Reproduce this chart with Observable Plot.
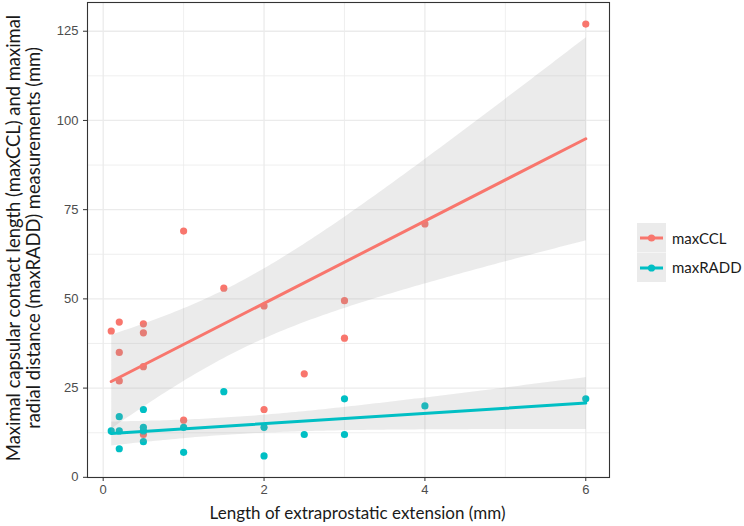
<!DOCTYPE html>
<html>
<head>
<meta charset="utf-8">
<script src="https://cdn.jsdelivr.net/npm/d3@7"></script>
<script src="https://cdn.jsdelivr.net/npm/@observablehq/plot@0.6"></script>
<style>
  body { margin: 0; background: #fff; }
  #wrap { position: relative; width: 744px; height: 526px; overflow: hidden; }
  #ytitle {
    position: absolute; left: 23px; top: 238px;
    transform: translate(-50%, -50%) rotate(-90deg);
    white-space: nowrap; text-align: center;
    font-family: Lato, "Open Sans", sans-serif; font-size: 18.4px; line-height: 20px; color: #1a1a1a;
  }
  #legend { position: absolute; left: 637px; top: 223px; font-family: Lato, "Open Sans", sans-serif; font-size: 15px; color: #1a1a1a; }
  .item { display: flex; align-items: center; height: 29.5px; }
  .item svg { display: block; }
  .item span { margin-left: 6px; }
</style>
</head>
<body>
<div id="wrap">
  <div id="chart"></div>
  <div id="ytitle"></div>
  <div id="legend"></div>
</div>
<script>
// Length of extraprostatic extension (mm), one entry per lesion
const epe     = [0.1, 0.2, 0.2, 0.2, 0.5, 0.5, 0.5, 0.5, 1, 1, 1.5, 2, 2, 2.5, 3, 3, 4, 6];
// Maximal capsular contact length (mm)
const maxCCL  = [41, 43.5, 35, 27, 43, 40.5, 31, 12, 69, 16, 53, 48, 19, 29, 49.5, 39, 71, 127];
// Maximal radial distance (mm)
const maxRADD = [13, 17, 13, 8, 19, 14, 13, 10, 14, 7, 24, 14, 6, 12, 22, 12, 20, 22];

const seriesNames  = ["maxCCL", "maxRADD"];
const seriesColors = ["#F8766D", "#00BFC4"];
const xTicks = [0, 2, 4, 6];
const xMinor = [1, 3, 5];
const yTicks = [0, 25, 50, 75, 100, 125];
const yMinor = [12.5, 37.5, 62.5, 87.5, 112.5];
const xTitle = "Length of extraprostatic extension (mm)";
const yTitleLines = [
  "Maximal capsular contact length (maxCCL) and maximal",
  "radial distance (maxRADD) measurements (mm)"
];

const rows = [
  ...epe.map((x, i) => ({x, value: maxCCL[i], series: seriesNames[0]})),
  ...epe.map((x, i) => ({x, value: maxRADD[i], series: seriesNames[1]}))
];

const grid = "#ebebeb";
const chart = Plot.plot({
  width: 744,
  height: 526,
  marginLeft: 87,
  marginRight: 135,
  marginTop: 2,
  marginBottom: 49,
  style: {fontFamily: "'Liberation Sans', Arial, sans-serif", fontSize: "13px", background: "#fff"},
  x: {domain: [-0.195, 6.295]},
  y: {domain: [-0.05, 133.05]},
  color: {domain: seriesNames, range: seriesColors},
  marks: [
    Plot.gridX(xMinor, {stroke: grid, strokeOpacity: 1, strokeWidth: 0.8}),
    Plot.gridY(yMinor, {stroke: grid, strokeOpacity: 1, strokeWidth: 0.8}),
    Plot.gridX(xTicks, {stroke: grid, strokeOpacity: 1, strokeWidth: 1.3}),
    Plot.gridY(yTicks, {stroke: grid, strokeOpacity: 1, strokeWidth: 1.3}),
    Plot.dot(rows, {x: "x", y: "value", fill: "series", r: 3.6}),
    Plot.linearRegressionY(rows, {
      x: "x", y: "value", z: "series", stroke: "series",
      fill: "#999", fillOpacity: 0.2, strokeWidth: 3, ci: 0.95
    }),
    Plot.frame({stroke: "#333", strokeWidth: 1.1}),
    Plot.axisX(xTicks, {tickSize: 4, tickPadding: 3, stroke: "#333", fill: "#4d4d4d", label: null, tickFormat: d => d}),
    Plot.axisY(yTicks, {tickSize: 4, tickPadding: 5, stroke: "#333", fill: "#4d4d4d", label: null, tickFormat: d => d}),
    Plot.text([xTitle], {
      frameAnchor: "bottom", dy: 36, dx: 9, text: d => d,
      fontFamily: "Lato, 'Open Sans', sans-serif", fontSize: 17, fill: "#1a1a1a", lineAnchor: "middle"
    })
  ]
});
document.getElementById("chart").appendChild(chart);

document.getElementById("ytitle").innerHTML = yTitleLines.join("<br>");

const legend = document.getElementById("legend");
seriesNames.forEach((name, i) => {
  const item = document.createElement("div");
  item.className = "item";
  item.innerHTML =
    `<svg width="29" height="29.5"><rect width="29" height="29.5" fill="#ebebeb"/>` +
    `<line x1="3" x2="26" y1="15" y2="15" stroke="${seriesColors[i]}" stroke-width="3"/>` +
    `<circle cx="14.5" cy="15" r="3.6" fill="${seriesColors[i]}"/></svg><span>${name}</span>`;
  legend.appendChild(item);
});
</script>
</body>
</html>
